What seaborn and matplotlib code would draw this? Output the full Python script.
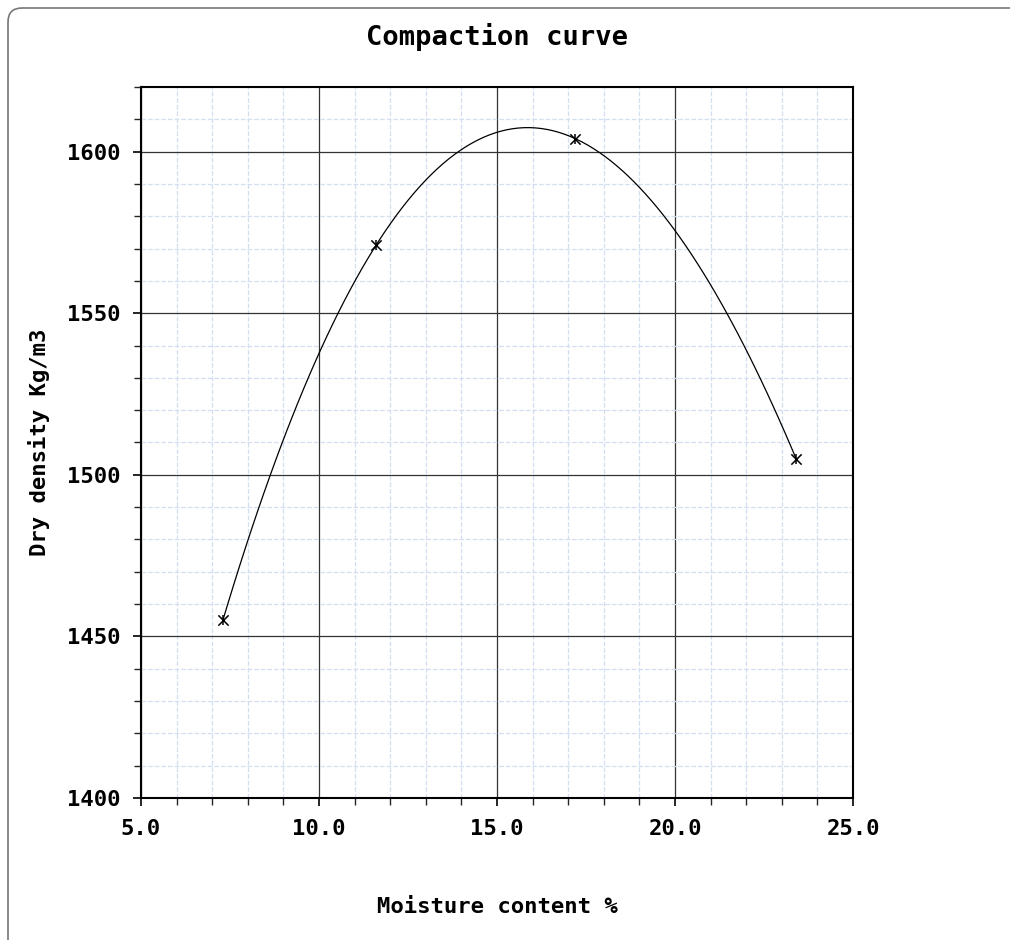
import numpy as np
import pandas as pd
import seaborn as sns
import matplotlib
matplotlib.use('Agg')
import matplotlib.pyplot as plt
from matplotlib.patches import FancyBboxPatch
from matplotlib.ticker import MultipleLocator, FormatStrFormatter

# compaction test results
moisture = [7.3, 11.6, 17.2, 23.4]
dry_density = [1455, 1571, 1604, 1505]

df = pd.DataFrame({'Moisture content %': moisture, 'Dry density Kg/m3': dry_density})

sns.set_style('white')
plt.rcParams['font.family'] = ['DejaVu Sans Mono', 'DejaVu Sans']
plt.rcParams['font.weight'] = 'bold'
plt.rcParams['text.color'] = 'black'
plt.rcParams['axes.labelcolor'] = 'black'

fig = plt.figure(figsize=(10.1, 9.4), dpi=100)
ax = fig.add_axes([0.1396, 0.1511, 0.7050, 0.7564])

# fitted curve (3rd order) + measured points
sns.regplot(data=df, x='Moisture content %', y='Dry density Kg/m3', order=3, ci=None,
            scatter=False, ax=ax, line_kws={'color': 'black', 'lw': 0.9})
# asterisk-like marker: an x with a vertical bar through it
for m in ['x', '|']:
    sns.scatterplot(data=df, x='Moisture content %', y='Dry density Kg/m3', ax=ax,
                    marker=m, s=55, color='black', linewidth=1.1, zorder=5)

ax.set_xlim(5, 25)
ax.set_ylim(1400, 1620)
ax.xaxis.set_major_locator(MultipleLocator(5))
ax.xaxis.set_minor_locator(MultipleLocator(1))
ax.yaxis.set_major_locator(MultipleLocator(50))
ax.yaxis.set_minor_locator(MultipleLocator(10))
ax.xaxis.set_major_formatter(FormatStrFormatter('%.1f'))

ax.grid(which='minor', color='#d3def0', linestyle='--', linewidth=0.9)
ax.grid(which='major', color='#333333', linestyle='-', linewidth=0.9)
ax.set_axisbelow(True)

ax.tick_params(which='major', direction='out', length=6, width=1.2, labelsize=16,
               bottom=True, left=True, pad=9, colors='black')
ax.tick_params(which='minor', direction='out', length=5, width=1, bottom=True, left=True)
for lab in ax.get_xticklabels() + ax.get_yticklabels():
    lab.set_fontweight('bold')

for sp in ax.spines.values():
    sp.set_color('black')
    sp.set_linewidth(1.5)

ax.set_xlabel('Moisture content %', fontsize=16, fontweight='bold', labelpad=42)
ax.set_ylabel('Dry density Kg/m3', fontsize=16, fontweight='bold', labelpad=12)
ax.set_title('Compaction curve', fontsize=19.5, fontweight='bold', pad=30, color='black')

# rounded frame around the chart
frame = FancyBboxPatch((8, -20), 1030, 952, boxstyle='round,pad=0,rounding_size=14',
                       transform=None, fill=False, edgecolor='#777777', linewidth=1.2)
fig.add_artist(frame)

fig.savefig('out.png', dpi=100)
